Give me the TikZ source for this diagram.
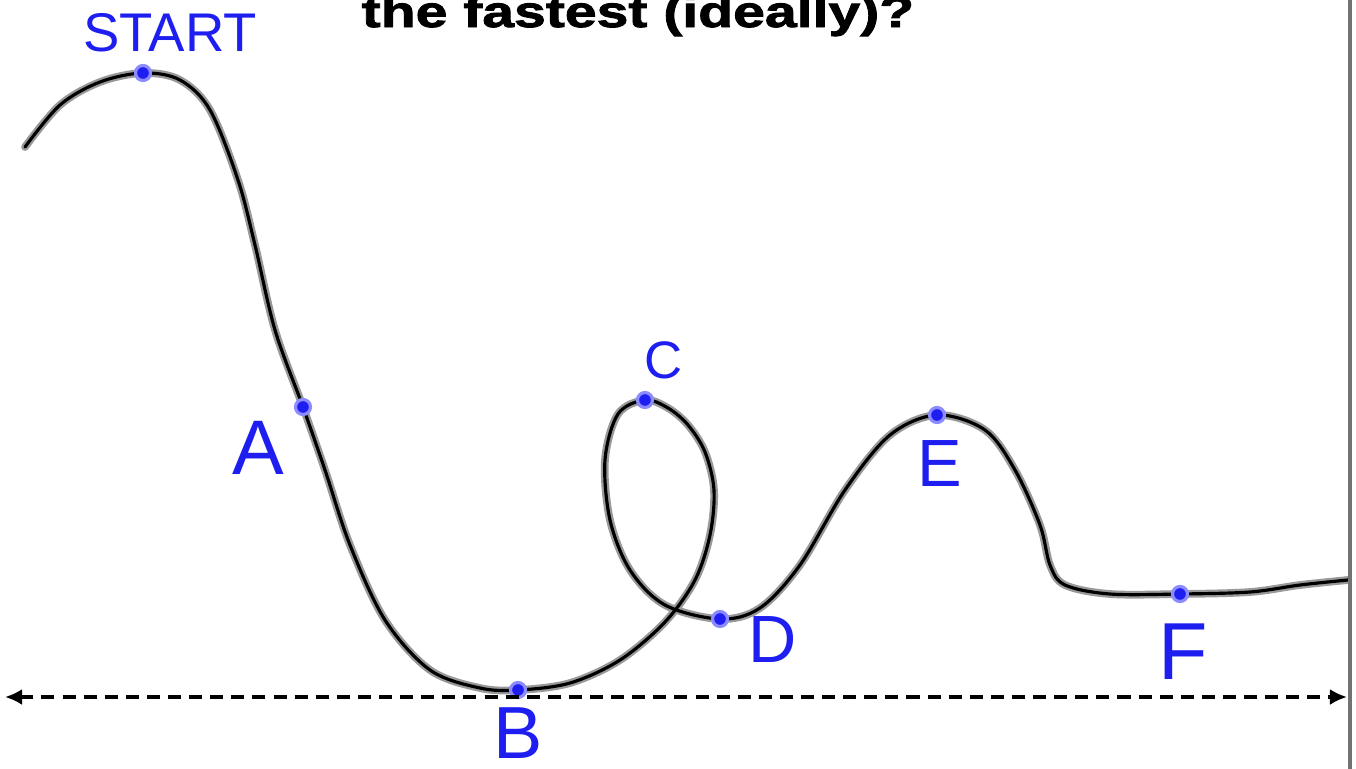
\documentclass[tikz,border=0pt]{standalone}
\usepackage{fontspec}
\setsansfont{Liberation Sans}
\newfontfamily\titlefont[FakeStretch=1.3,FakeBold=2]{Liberation Sans}
\usetikzlibrary{arrows.meta}
\definecolor{InkBlue}{HTML}{1E1EF0}
\definecolor{InkGlow}{HTML}{8C8CFF}
\tikzset{
  trackglow/.style={line width=2.2pt, draw=black!40, line join=round, line cap=round},
  track/.style={line width=0.9pt, draw=black, line join=round, line cap=round},
  dot/.style={circle, fill=InkBlue, draw=InkGlow, line width=0.9pt, inner sep=0pt, minimum size=1.5mm},
  lbl/.style={text=InkBlue, font=\sffamily, inner sep=0pt},
  axis/.style={{Latex[length=1.7mm,width=1.6mm]}-{Latex[length=1.7mm,width=1.6mm]}, line width=1.2pt, dash pattern=on 3.7pt off 2.3pt},
  frame/.style={line width=1.3pt, draw=black!55}
}
\begin{document}
\begin{tikzpicture}[x=0.01cm, y=-0.01cm]
\useasboundingbox (0,0) rectangle (1356,769);
% title, cut off by the page edge
\node[anchor=base, inner sep=0pt, font=\titlefont\bfseries\fontsize{12.5}{14}\selectfont] (title) at (638,27) {the fastest (ideally)?};
% points on the track
\coordinate (pstart) at (143,73);
\coordinate (pa) at (303,407);
\coordinate (pb) at (518,690);
\coordinate (pc) at (645,400);
\coordinate (pd) at (720,619);
\coordinate (pe) at (937,415);
\coordinate (pf) at (1180,594);
\foreach \s in {trackglow, track}
  \draw[\s] plot[smooth, tension=0.55] coordinates {(25,147) (60,105) (100,82) (pstart) (180,80) (210,110) (238,180) (255,245) (275,330) (pa) (325,470) (350,545) (385,620) (430,670) (480,688) (pb) (570,683) (620,660) (665,622) (695,580) (710,535) (714,490) (705,452) (688,425) (668,408) (pc) (618,414) (605,460) (610,520) (630,570) (665,605) (pd) (760,608) (800,565) (845,490) (890,435) (pe) (985,430) (1015,470) (1040,525) (1050,565) (1065,585) (1110,594) (pf) (1250,592) (1300,585) (1348,580)};
% dots
\node[dot] (dstart) at (pstart) {};
\node[dot] (da) at (pa) {};
\node[dot] (db) at (pb) {};
\node[dot] (dc) at (pc) {};
\node[dot] (dd) at (pd) {};
\node[dot] (de) at (pe) {};
\node[dot] (df) at (pf) {};
% labels
\node[lbl, font=\sffamily\fontsize{15.5}{18}\selectfont] (lstart) at (170,33) {START};
\node[lbl, font=\sffamily\fontsize{22}{24}\selectfont] (la) at (258,448) {A};
\node[lbl, font=\sffamily\fontsize{21}{24}\selectfont] (lb) at (518,733) {B};
\node[lbl, font=\sffamily\fontsize{15}{18}\selectfont] (lc) at (664,360) {C};
\node[lbl, font=\sffamily\fontsize{19}{22}\selectfont] (ld) at (773,640) {D};
\node[lbl, font=\sffamily\fontsize{19}{22}\selectfont] (le) at (940,464) {E};
\node[lbl, font=\sffamily\fontsize{23}{26}\selectfont] (lf) at (1183,652) {F};
% ground line and page edge
\coordinate (gl) at (5,697);
\coordinate (gr) at (1347,697);
\draw[axis] (gl) -- (gr);
\draw[frame] (1350,0) -- (1350,769);
\end{tikzpicture}
\end{document}
